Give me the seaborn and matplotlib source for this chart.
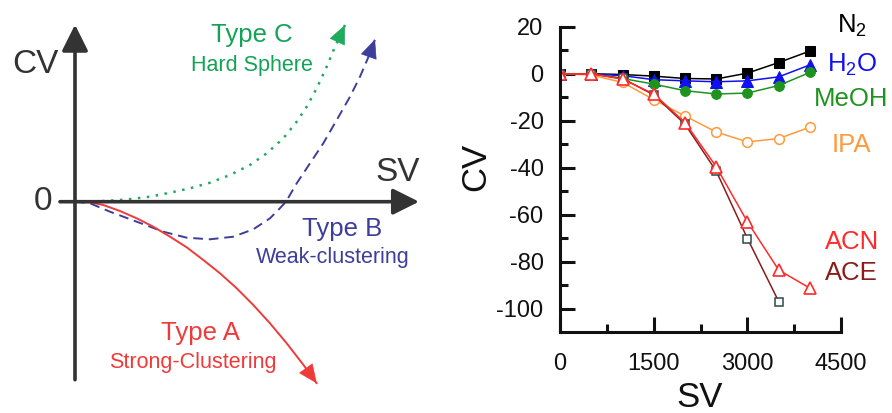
import numpy as np
import matplotlib
matplotlib.use("Agg")
import matplotlib.pyplot as plt
import seaborn as sns

# ---------------- data: right panel ----------------
sv = [0, 500, 1000, 1500, 2000, 2500, 3000, 3500, 4000]
cv_n2 = [0, 0, -0.3, -1, -2, -2.2, 0.3, 4.8, 9.7]
cv_h2o = [0, 0, -0.8, -2.5, -3, -3.4, -3, -1.3, 3.8]
cv_meoh = [0, 0, -2, -4.4, -7.2, -8.6, -8.2, -5, 0.6]
cv_ipa = [0, -0.5, -3.7, -11, -18, -24.8, -29, -27.6, -22.7]
cv_acn = [0, 0, -2.3, -8.6, -20.8, -39.6, -63.1, -83.6, -91.3]
sv_ace = [0, 500, 1000, 1500, 2000, 2500, 3000, 3500]
cv_ace = [0, 0, -2, -9, -21.5, -41.5, -70.2, -97]
x_ticks = [0, 1500, 3000, 4500]
y_ticks = [20, 0, -20, -40, -60, -80, -100]

# ---------------- data: left schematic (arbitrary units) ----------------
typeA_x = [0, 15, 28.3, 45, 61.7, 78.3, 95, 111.7, 128.3, 145, 161.7, 178.3,
           195, 211.7, 228.3, 241.7]
typeA_y = [0, -0.6, -3.3, -9.3, -16.6, -25, -35, -45.6, -58.3, -71.6, -86.6,
           -103.3, -121.6, -141.6, -163, -181.6]
typeB_x = [0, 15, 35, 61.7, 88.3, 111.7, 135, 158.3, 178.3, 195, 204, 211,
           221.7, 235, 248.3, 261.7, 275, 285, 295, 300]
typeB_y = [0, -1.6, -10, -20, -30, -36, -37.6, -35, -27.6, -16.6, -7.5, 0,
           18.4, 38.4, 58.4, 81.7, 105, 125, 148.4, 162.4]
typeC_x = [0, 25, 50, 75, 95, 115, 135, 155, 175, 191.7, 208.3, 221.7, 231.7,
           241.7, 251.7, 260, 270]
typeC_y = [0, 0.5, 2, 5, 9, 13.4, 19, 26.7, 36.7, 48.4, 63.4, 80, 95, 113.4,
           135, 155, 176.7]

sns.set_style("white")
plt.rcParams["font.family"] = ["Liberation Sans", "DejaVu Sans"]
plt.rcParams["mathtext.fontset"] = "custom"
plt.rcParams["mathtext.rm"] = "Liberation Sans"
plt.rcParams["mathtext.it"] = "Liberation Sans:italic"
plt.rcParams["axes.unicode_minus"] = False

fig = plt.figure(figsize=(8.92, 4.13), dpi=100)

# ================= left schematic =================
axl = fig.add_axes([0, 0, 0.5, 1])
axl.set_xlim(-75, 371)
axl.set_ylim(-211.3, 201.7)
axl.axis("off")

axc = "#333333"
axl.annotate("", xy=(0, 177), xytext=(0, -178),
             arrowprops=dict(arrowstyle="-|>,head_length=0.8,head_width=0.4",
                             color=axc, lw=2.6, mutation_scale=20,
                             shrinkA=0, shrinkB=0))
axl.annotate("", xy=(344, 0), xytext=(-15, 0),
             arrowprops=dict(arrowstyle="-|>,head_length=0.8,head_width=0.4",
                             color=axc, lw=2.6, mutation_scale=20,
                             shrinkA=0, shrinkB=0))

red = "#f03a3a"
blue = "#3d3d9c"
green = "#1faa5c"

def curve(xs, ys, color, ls, lw):
    sns.lineplot(x=xs, y=ys, ax=axl, color=color, linestyle=ls, lw=lw,
                 sort=False, estimator=None)
    xs_a = np.asarray(xs, float)
    ys_a = np.asarray(ys, float)
    tip = np.array([xs_a[-1], ys_a[-1]])
    prev = np.array([xs_a[-2], ys_a[-2]])
    base = tip - 0.35 * (tip - prev)
    axl.annotate("", xy=tip, xytext=base,
                 arrowprops=dict(arrowstyle="-|>,head_length=0.9,head_width=0.4",
                                 color=color, lw=0.5, mutation_scale=14,
                                 shrinkA=0, shrinkB=0))

curve(typeC_x, typeC_y, green, (0, (1, 2.6)), 1.8)
curve(typeB_x, typeB_y, blue, (0, (5, 3)), 1.4)
curve(typeA_x, typeA_y, red, "-", 1.4)

axl.text(-40, 137, "CV", fontsize=24, color="#333333", ha="center", va="center")
axl.text(-32, 0, "0", fontsize=24, color="#333333", ha="center", va="center")
axl.text(323, 29, "SV", fontsize=24, color="#333333", ha="center", va="center")

axl.text(177, 167, "Type C", fontsize=18.5, color="#13a356", ha="center", va="center")
axl.text(177, 136, "Hard Sphere", fontsize=15.5, color="#13a356", ha="center", va="center")
axl.text(267, -27, "Type B", fontsize=18.5, color="#3d3d9c", ha="center", va="center")
axl.text(258, -56, "Weak-clustering", fontsize=15.5, color="#3d3d9c", ha="center", va="center")
axl.text(125, -131, "Type A", fontsize=18.5, color="#f03a3a", ha="center", va="center")
axl.text(118, -161, "Strong-Clustering", fontsize=15.5, color="#f03a3a", ha="center", va="center")

# ================= right data panel =================
ax = fig.add_axes([0.628, 0.196, 0.315, 0.739])

c_n2 = "#000000"
c_h2o = "#1010f0"
c_meoh = "#1e941e"
c_ipa = "#ff9a3c"
c_acn = "#ff2a2a"
c_ace = "#8b1c1c"

sns.lineplot(x=sv, y=cv_n2, ax=ax, color=c_n2, lw=1.1, marker="s", markersize=6.5,
             markerfacecolor=c_n2, markeredgecolor=c_n2)
sns.lineplot(x=sv, y=cv_h2o, ax=ax, color=c_h2o, lw=1.1, marker="^", markersize=8,
             markerfacecolor=c_h2o, markeredgecolor=c_h2o)
sns.lineplot(x=sv, y=cv_meoh, ax=ax, color=c_meoh, lw=1.1, marker="o", markersize=7,
             markerfacecolor=c_meoh, markeredgecolor=c_meoh)
sns.lineplot(x=sv, y=cv_ipa, ax=ax, color=c_ipa, lw=1.1, marker="o", markersize=7,
             markerfacecolor="white", markeredgecolor=c_ipa, markeredgewidth=1.1)
sns.lineplot(x=sv_ace, y=cv_ace, ax=ax, color=c_ace, lw=1.1, marker="s", markersize=6,
             markerfacecolor="white", markeredgecolor="#2f4a48", markeredgewidth=1.1)
sns.lineplot(x=sv, y=cv_acn, ax=ax, color=c_acn, lw=1.1, marker="^", markersize=9,
             markerfacecolor="white", markeredgecolor=c_acn, markeredgewidth=1.2)

ax.set_xlim(0, 4500)
ax.set_ylim(-110, 20)
ax.set_xticks(x_ticks)
ax.set_xticks([750, 2250, 3750], minor=True)
ax.set_yticks(y_ticks)
ax.set_yticks([10, -10, -30, -50, -70, -90], minor=True)

for s in ["top", "right"]:
    ax.spines[s].set_visible(False)
for s in ["left", "bottom"]:
    ax.spines[s].set_linewidth(2.2)
    ax.spines[s].set_color("#111111")

ax.tick_params(which="both", bottom=True, left=True, top=False, right=False)
ax.tick_params(which="major", direction="in", length=11, width=2.2, color="#111111",
               labelsize=17, labelcolor="#111111")
ax.tick_params(axis="y", which="major", pad=12)
ax.tick_params(axis="x", which="major", pad=15)
ax.tick_params(which="minor", direction="in", length=6, width=2.2, color="#111111")

ax.set_xlabel("SV", fontsize=25, color="#111111")
ax.set_ylabel("CV", fontsize=25, color="#111111")
ax.xaxis.set_label_coords(0.495, -0.162)
ax.yaxis.set_label_coords(-0.242, 0.54)

lab = dict(fontsize=18.5, ha="center", va="center", clip_on=False)
ax.text(4670, 20.5, "N$_\\mathrm{2}$", color=c_n2, **lab)
ax.text(4676, 4.0, "H$_\\mathrm{2}$O", color=c_h2o, **lab)
ax.text(4660, -10.6, "MeOH", color=c_meoh, **lab)
ax.text(4660, -30.4, "IPA", color=c_ipa, **lab)
ax.text(4680, -71.5, "ACN", color=c_acn, **lab)
ax.text(4670, -85, "ACE", color=c_ace, **lab)

fig.savefig("out.png", dpi=100)
